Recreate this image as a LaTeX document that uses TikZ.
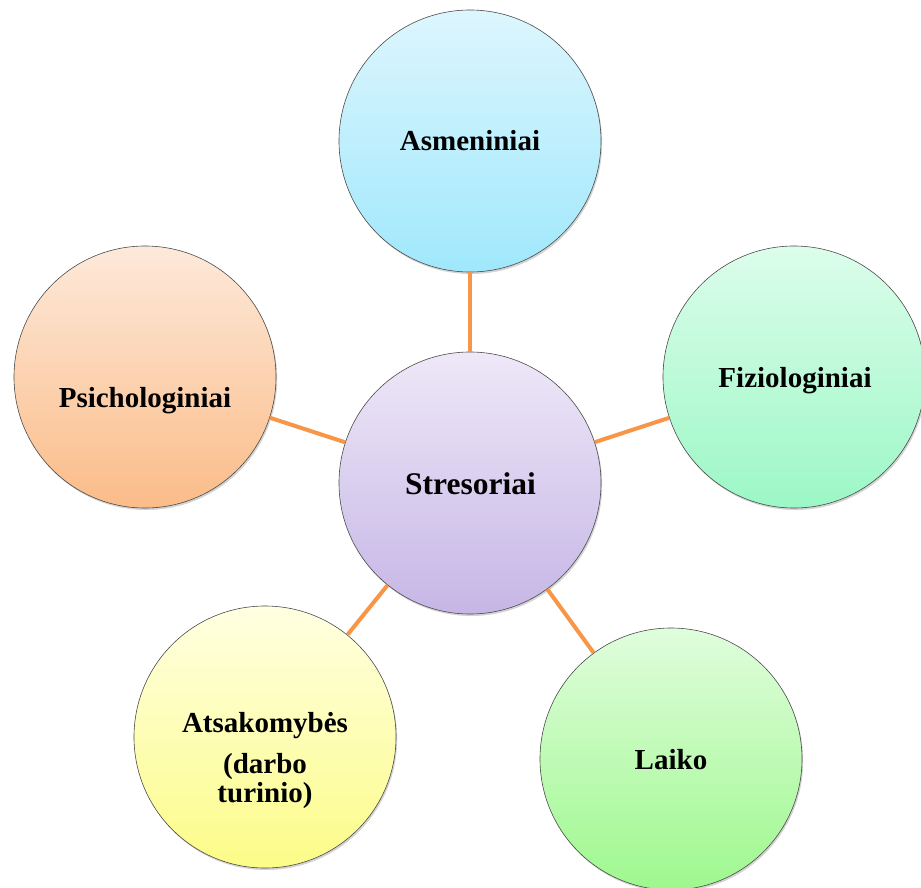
\documentclass[tikz,border=0pt]{standalone}
\usepackage{fontspec}
\setmainfont{Liberation Serif}
\usetikzlibrary{shadows}
\definecolor{linkorange}{HTML}{F79646}
\definecolor{rimgray}{HTML}{4A4A4A}
\begin{document}
\begin{tikzpicture}[x=1pt,y=-1pt,
  bubble/.style={circle, minimum size=262pt, inner sep=0pt, draw=rimgray, line width=0.6pt,
    drop shadow={opacity=0.35, shadow xshift=1.2pt, shadow yshift=-2pt}},
  caption/.style={anchor=base, inner sep=0pt, font=\fontsize{29}{30}\selectfont\bfseries},
  link/.style={draw=linkorange, line width=4pt}]
\useasboundingbox (0,0) rectangle (921,888);
\begin{scope}
\clip (0,0) rectangle (921,888);
% circles
\node[bubble, top color={rgb,255:red,221;green,246;blue,253}, bottom color={rgb,255:red,160;green,232;blue,252}] (asm) at (470,141) {};
\node[bubble, top color={rgb,255:red,220;green,253;blue,235}, bottom color={rgb,255:red,156;green,247;blue,198}] (fiz) at (794,377) {};
\node[bubble, top color={rgb,255:red,253;green,233;blue,218}, bottom color={rgb,255:red,251;green,188;blue,136}] (psi) at (145,377) {};
\node[bubble, top color={rgb,255:red,238;green,232;blue,248}, bottom color={rgb,255:red,198;green,182;blue,230}] (str) at (470,483) {};
\node[bubble, top color={rgb,255:red,255;green,255;blue,226}, bottom color={rgb,255:red,252;green,252;blue,136}] (ats) at (265,737) {};
\node[bubble, top color={rgb,255:red,224;green,253;blue,220}, bottom color={rgb,255:red,158;green,248;blue,142}] (lai) at (671,759) {};
% connectors
\draw[link] (str) -- (asm);
\draw[link] (str) -- (fiz);
\draw[link] (str) -- (psi);
\draw[link] (str) -- (ats);
\draw[link] (str) -- (lai);
% captions
\node[caption] (tasm) at (470,151) {Asmeniniai};
\node[caption] (tfiz) at (795,387) {Fiziologiniai};
\node[caption] (tpsi) at (145,407) {Psichologiniai};
\node[caption, font=\fontsize{31.5}{32}\selectfont\bfseries] (tstr) at (470.5,494) {Stresoriai};
\node[caption] (tlai) at (671,769) {Laiko};
\node[caption] (tats1) at (265,732) {Atsakomybės};
\node[caption] (tats2) at (265,773) {(darbo};
\node[caption] (tats3) at (265,802) {turinio)};
\end{scope}
\end{tikzpicture}
\end{document}
